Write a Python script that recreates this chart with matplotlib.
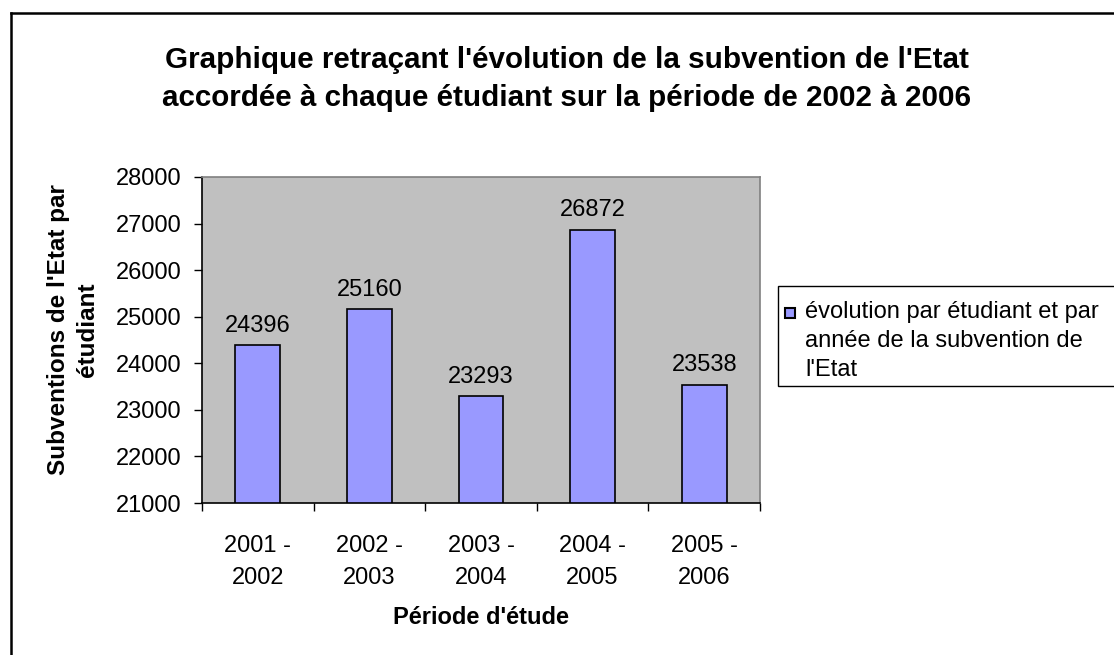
import matplotlib.pyplot as plt
from matplotlib.patches import Rectangle
from matplotlib.lines import Line2D

periods = ["2001 -\n2002", "2002 -\n2003", "2003 -\n2004", "2004 -\n2005", "2005 -\n2006"]
subventions = [24396, 25160, 23293, 26872, 23538]
y_ticks = [21000, 22000, 23000, 24000, 25000, 26000, 27000, 28000]

W, H = 1114, 655
plt.rcParams['font.family'] = ['Liberation Sans', 'DejaVu Sans']

fig = plt.figure(figsize=(W / 100, H / 100), dpi=100)
fig.patch.set_facecolor('white')

def fx(px):
    return px / W

def fy(py):
    return 1 - py / H

ax = fig.add_axes([fx(202), fy(503), fx(760) - fx(202), fy(177) - fy(503)])
ax.set_facecolor('#C0C0C0')

x = list(range(len(periods)))
ax.bar(x, subventions, width=0.4, color='#9999FF', edgecolor='black', linewidth=1.2)
ax.set_ylim(y_ticks[0], y_ticks[-1])
ax.set_xlim(-0.5, len(periods) - 0.5)

for xi, v in zip(x, subventions):
    ax.annotate(str(v), (xi, v), xytext=(0, 6), textcoords='offset points',
                ha='center', va='bottom', fontsize=17)

ax.set_yticks(y_ticks)
ax.set_yticklabels([str(t) for t in y_ticks], fontsize=17)
ax.tick_params(axis='y', direction='out', length=6, width=1, pad=9)

ax.set_xticks([i - 0.5 for i in range(len(periods) + 1)])
ax.set_xticklabels([])
ax.tick_params(axis='x', which='major', direction='out', length=6, width=1)
ax.set_xticks(x, minor=True)
ax.set_xticklabels(periods, minor=True, fontsize=17, linespacing=1.6)
ax.tick_params(axis='x', which='minor', length=0, pad=23)

for s in ['left', 'bottom']:
    ax.spines[s].set_color('black')
    ax.spines[s].set_linewidth(1.2)
for s in ['top', 'right']:
    ax.spines[s].set_color('#808080')
    ax.spines[s].set_linewidth(1.2)

fig.text(fx(73), fy(330), "Subventions de l'Etat par\nétudiant", rotation=90,
         ha='center', va='center', fontsize=17.5, fontweight='bold', linespacing=1.3)
fig.text(fx(481), fy(617), "Période d'étude", ha='center', va='center',
         fontsize=17, fontweight='bold')

fig.text(fx(567), fy(79), "Graphique retraçant l'évolution de la subvention de l'Etat\n"
         "accordée à chaque étudiant sur la période de 2002 à 2006",
         ha='center', va='center', fontsize=21.3, fontweight='bold', linespacing=1.45)

# legend drawn by hand so the swatch sits on the first line
fig.add_artist(Rectangle((fx(778), fy(386)), fx(1120) - fx(778), fy(286) - fy(386),
                         transform=fig.transFigure, facecolor='white',
                         edgecolor='black', linewidth=1))
fig.add_artist(Rectangle((fx(785), fy(318)), fx(10), fy(308) - fy(318),
                         transform=fig.transFigure, facecolor='#9999FF',
                         edgecolor='black', linewidth=1.5))
fig.text(fx(805), fy(341), "évolution par étudiant et par\nannée de la subvention de\nl'Etat",
         ha='left', va='center', fontsize=17, linespacing=1.4)

# outer chart frame
fig.add_artist(Line2D([fx(10.5), fx(10.5)], [0, fy(12.5)], transform=fig.transFigure,
                      color='black', linewidth=1.8))
fig.add_artist(Line2D([fx(10.5), 1], [fy(12.5), fy(12.5)], transform=fig.transFigure,
                      color='black', linewidth=1.8))

fig.savefig('out.png', dpi=100)
